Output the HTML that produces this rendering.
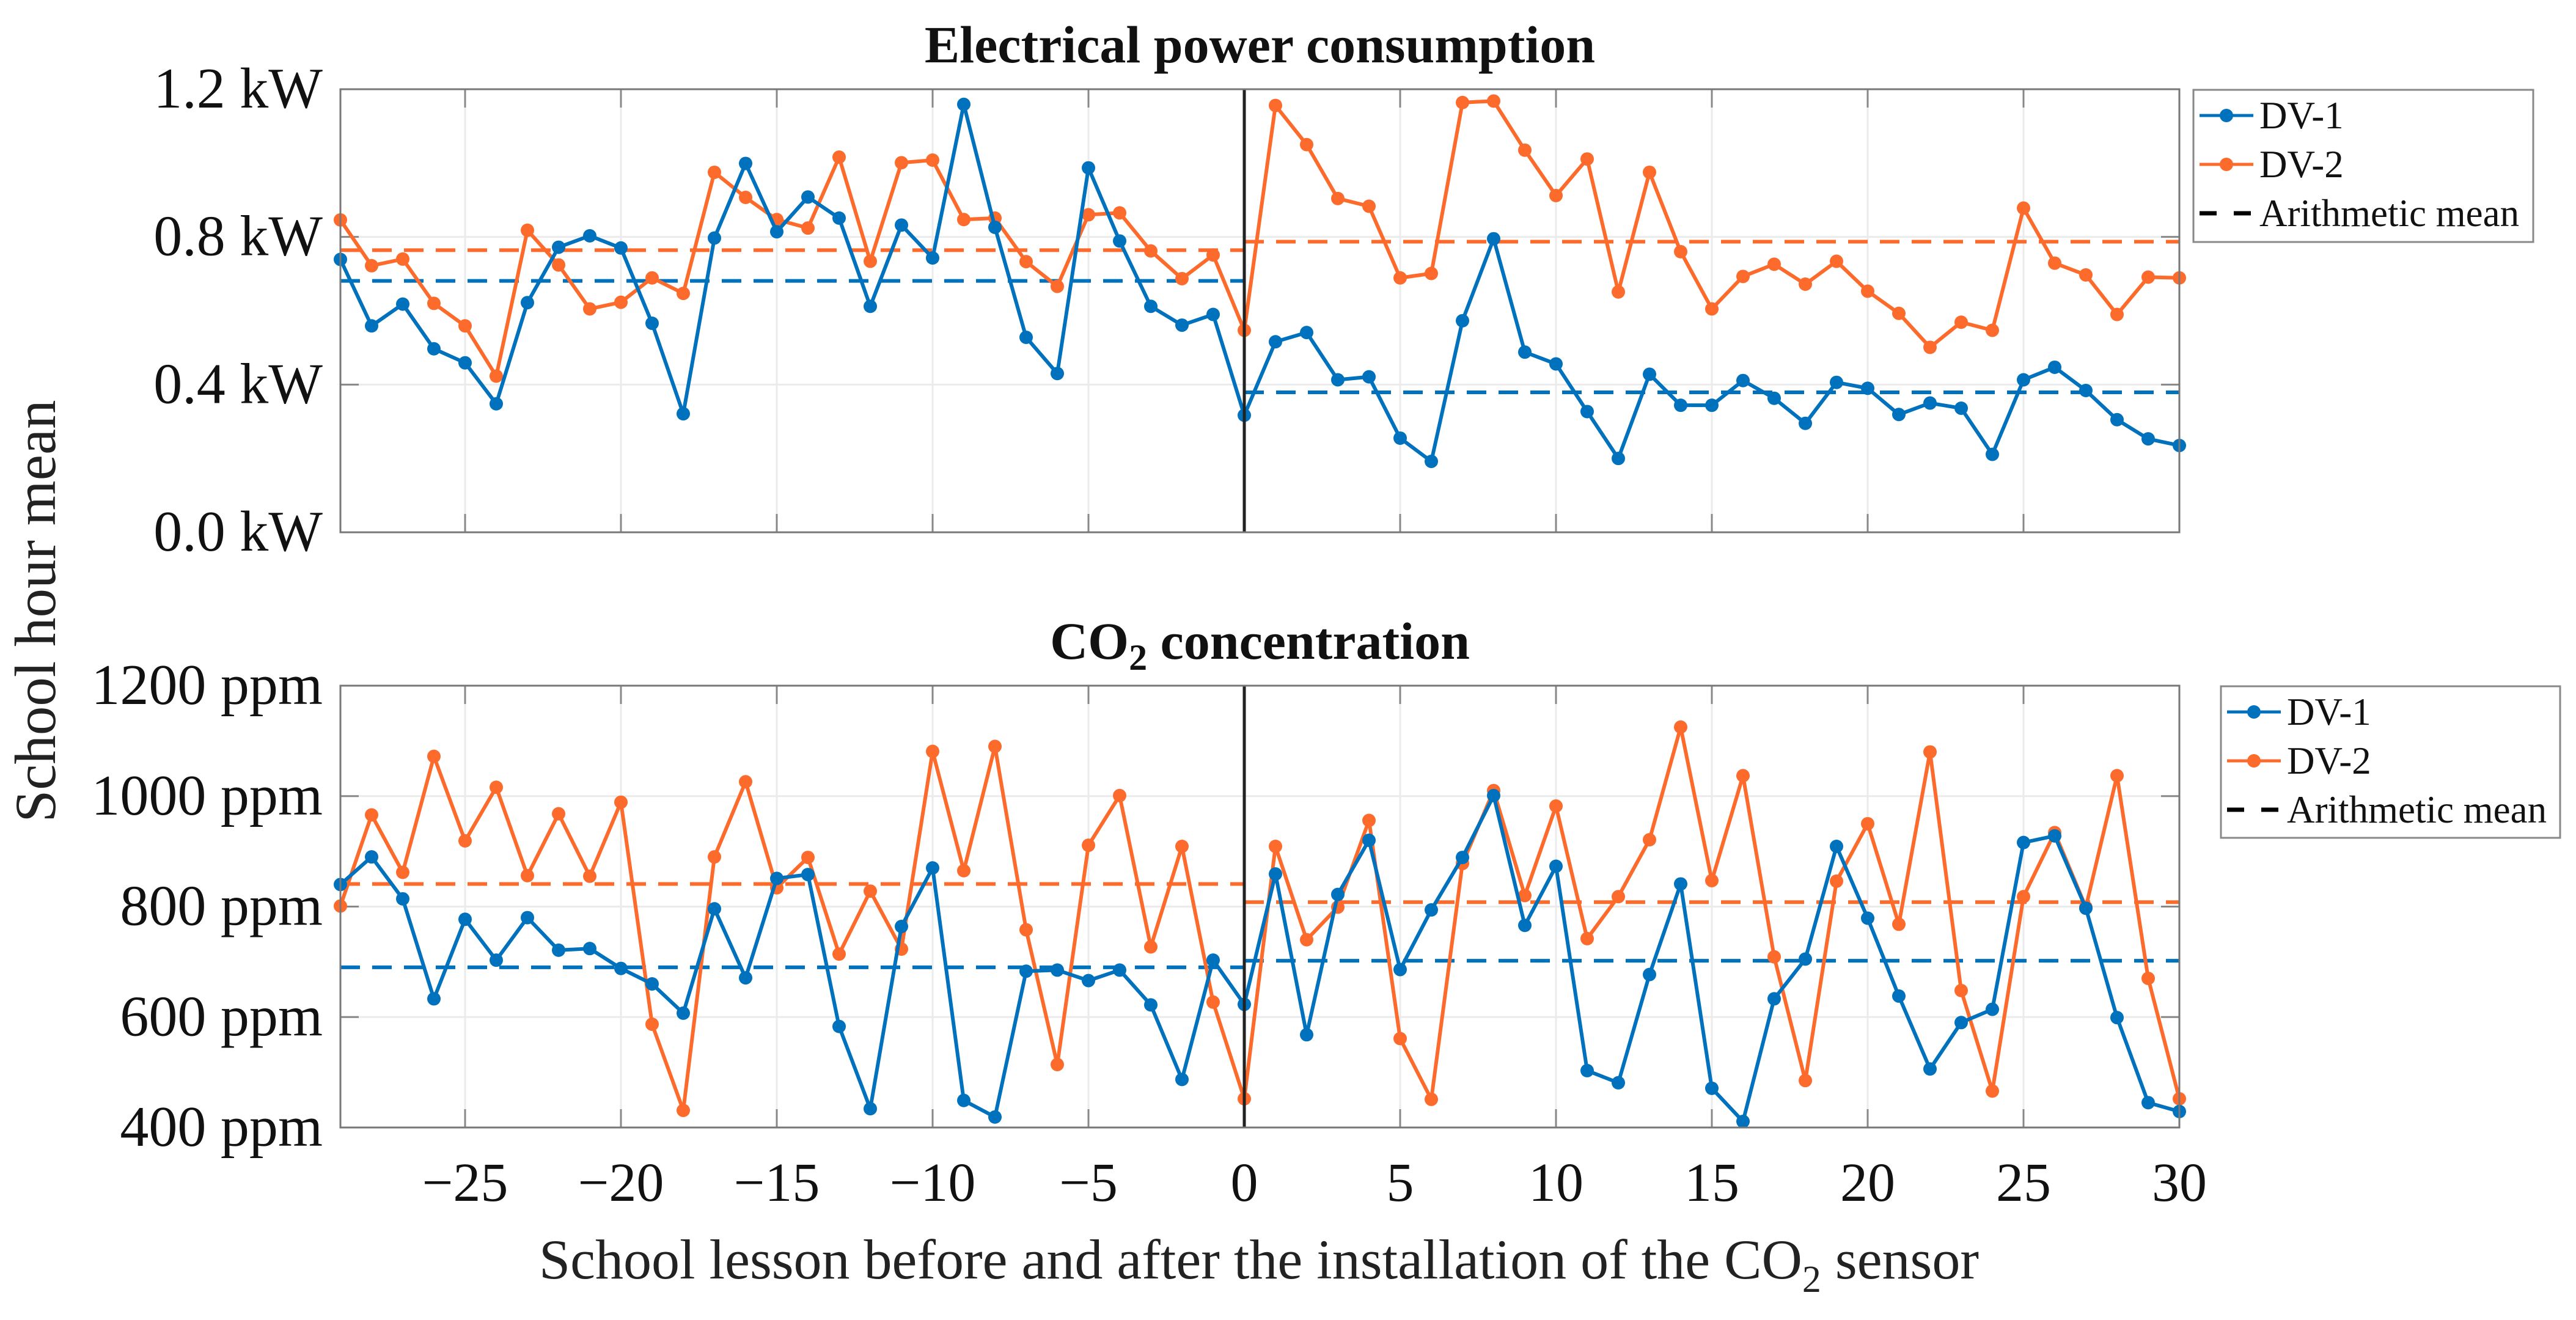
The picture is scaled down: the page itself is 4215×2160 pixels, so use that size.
<!DOCTYPE html>
<html><head><meta charset="utf-8"><style>
html,body{margin:0;padding:0;background:#fff;}
svg{display:block;font-family:"Liberation Serif",serif;}
</style></head><body>
<svg id="chart" width="4215" height="2160" viewBox="0 0 4215 2160" xmlns="http://www.w3.org/2000/svg">
<rect x="0" y="0" width="4215" height="2160" fill="#fff"/>
<g id="g"></g>
</svg>
<script>
const lessons = [-29,-28,-27,-26,-25,-24,-23,-22,-21,-20,-19,-18,-17,-16,-15,-14,-13,-12,-11,-10,-9,-8,-7,-6,-5,-4,-3,-2,-1,0,1,2,3,4,5,6,7,8,9,10,11,12,13,14,15,16,17,18,19,20,21,22,23,24,25,26,27,28,29,30];
const powerDV1 = [0.739,0.559,0.618,0.497,0.459,0.348,0.622,0.772,0.803,0.770,0.566,0.321,0.797,0.999,0.814,0.908,0.851,0.612,0.832,0.743,1.159,0.826,0.528,0.430,0.987,0.789,0.612,0.561,0.590,0.317,
0.516,0.541,0.413,0.421,0.255,0.192,0.573,0.795,0.488,0.456,0.327,0.200,0.428,0.344,0.344,0.411,0.363,0.295,0.406,0.390,0.319,0.350,0.336,0.211,0.413,0.447,0.384,0.305,0.253,0.235];
const powerDV2 = [0.846,0.722,0.740,0.620,0.559,0.423,0.818,0.724,0.605,0.623,0.689,0.647,0.975,0.907,0.847,0.824,1.016,0.734,1.001,1.008,0.847,0.851,0.733,0.666,0.860,0.865,0.762,0.687,0.751,0.547,
1.156,1.050,0.904,0.883,0.689,0.701,1.164,1.168,1.035,0.912,1.011,0.651,0.975,0.760,0.605,0.693,0.726,0.672,0.734,0.653,0.593,0.501,0.569,0.547,0.878,0.729,0.697,0.590,0.691,0.689];
const co2DV1 = [840,890,814,633,777,703,780,721,724,688,660,607,796,671,851,858,583,434,764,870,449,419,683,685,666,685,622,487,703,623,
859,568,822,920,686,794,889,1001,766,873,503,481,677,841,471,411,633,705,909,779,638,506,590,614,916,928,797,599,445,429];
const co2DV2 = [801,966,862,1072,919,1016,856,968,855,989,587,431,890,1026,834,889,714,828,723,1081,865,1090,758,514,911,1001,727,909,627,452,
909,740,799,956,561,451,878,1010,820,982,742,818,921,1125,847,1037,709,485,846,950,768,1080,648,466,818,934,799,1037,670,452];
const powerMeansBefore = [0.681,0.764];
const powerMeansAfter = [0.379,0.787];
const co2MeansBefore = [690,841];
const co2MeansAfter = [702,808];
const xTicks = [-25,-20,-15,-10,-5,0,5,10,15,20,25,30];
const powerTicks = [0,0.4,0.8,1.2];
const powerTickLabels = ["0.0 kW","0.4 kW","0.8 kW","1.2 kW"];
const co2Ticks = [400,600,800,1000,1200];
const co2TickLabels = ["400 ppm","600 ppm","800 ppm","1000 ppm","1200 ppm"];

const NS="http://www.w3.org/2000/svg";
const root=document.getElementById('g');
const BLUE="#0072BD", ORANGE="#FD6B2C";
const X0=557, X1=3566, XMIN=-29, XMAX=30;
const sx=v=>X0+(v-XMIN)/(XMAX-XMIN)*(X1-X0);
function mk(tag,attrs,parent){const e=document.createElementNS(NS,tag);for(const k in attrs)e.setAttribute(k,attrs[k]);(parent||root).appendChild(e);return e;}

function panel(name,top,bot,ymin,ymax,ticks,labels,s1,s2,mb,ma,titleParts,legY){
  const sy=v=>bot-(v-ymin)/(ymax-ymin)*(bot-top);
  const g=mk('g',{});
  
  
  xTicks.forEach(t=>{const l=mk('line',{x1:sx(t),x2:sx(t),y1:top,y2:bot,stroke:'#ebebeb','stroke-width':3},g);
    
    mk('line',{x1:sx(t),x2:sx(t),y1:bot,y2:bot-30,stroke:'#888','stroke-width':3},g);
    mk('line',{x1:sx(t),x2:sx(t),y1:top,y2:top+30,stroke:'#888','stroke-width':3},g);});
  ticks.forEach((t,i)=>{const l=mk('line',{x1:X0,x2:X1,y1:sy(t),y2:sy(t),stroke:'#ebebeb','stroke-width':3},g);
    
    mk('line',{x1:X0,x2:X0+30,y1:sy(t),y2:sy(t),stroke:'#888','stroke-width':3},g);
    mk('line',{x1:X1,x2:X1-30,y1:sy(t),y2:sy(t),stroke:'#888','stroke-width':3},g);
    const tx=mk('text',{x:528,y:sy(t)+30,'text-anchor':'end','font-size':94,fill:'#111'},g);
    tx.textContent=labels[i];
    });
  const segs=[[XMIN,0,mb],[0,XMAX,ma]];
  segs.forEach(([a,b,m])=>{[BLUE,ORANGE].forEach((c,i)=>{
    const l=mk('line',{x1:sx(a),x2:sx(b),y1:sy(m[i]),y2:sy(m[i]),stroke:c,'stroke-width':6,'stroke-dasharray':'32 20'},g);
    });});
  [[s2,ORANGE,'dv-2'],[s1,BLUE,'dv-1']].forEach(([s,c,n])=>{
    const pts=lessons.map((x,i)=>sx(x)+','+sy(s[i])).join(' ');
    const pl=mk('polyline',{points:pts,fill:'none',stroke:c,'stroke-width':6,'stroke-linejoin':'round'},g);
    
    lessons.forEach((x,i)=>{const ci=mk('circle',{cx:sx(x),cy:sy(s[i]),r:11,fill:c},g);
      });
  });
  const z=mk('line',{x1:sx(0),x2:sx(0),y1:top,y2:bot,stroke:'#222','stroke-width':5},g);
  
  const b=mk('rect',{x:X0,y:top,width:X1-X0,height:bot-top,fill:'none',stroke:'#777','stroke-width':3},g);
  
  const t=mk('text',{x:(X0+X1)/2,y:top-44,'text-anchor':'middle','font-size':86,'font-weight':'bold',fill:'#111'},g);
  
  t.innerHTML=titleParts;
  const [lx,ly,lw,lh]=legY;
  const lg=mk('g',{},g);
  
  mk('rect',{x:lx,y:ly,width:lw,height:lh,fill:'#fff',stroke:'#888','stroke-width':3},lg);
  const rows=[['DV-1',BLUE,0],['DV-2',ORANGE,0],['Arithmetic mean','#000',1]];
  rows.forEach(([lab,c,d],i)=>{const yy=ly+42+i*80;
    if(d){mk('line',{x1:lx+10,x2:lx+98,y1:yy,y2:yy,stroke:c,'stroke-width':7,'stroke-dasharray':'28 28'},lg);}
    else{mk('line',{x1:lx+10,x2:lx+98,y1:yy,y2:yy,stroke:c,'stroke-width':5},lg);mk('circle',{cx:lx+54,cy:yy,r:11,fill:c},lg);}
    const tx=mk('text',{x:lx+108,y:yy+21,'font-size':63,fill:'#111'},lg);tx.textContent=lab;
    });
}
panel('power',146,871,0,1.2,powerTicks,powerTickLabels,powerDV1,powerDV2,powerMeansBefore,powerMeansAfter,'Electrical power consumption',[3589,147,556,249]);
panel('co2',1122,1845,400,1200,co2Ticks,co2TickLabels,co2DV1,co2DV2,co2MeansBefore,co2MeansAfter,'CO<tspan font-size="60" dy="18">2</tspan><tspan dy="-18"> concentration</tspan>',[3634,1123,555,248]);

xTicks.forEach(t=>{const tx=mk('text',{x:sx(t),y:1965,'text-anchor':'middle','font-size':90,fill:'#111'});
  tx.textContent=t<0?'\u2212'+(-t):String(t);
  });
const xl=mk('text',{x:2060,y:2092,'text-anchor':'middle','font-size':92,fill:'#222'});

xl.innerHTML='School lesson before and after the installation of the CO<tspan font-size="62" dy="22">2</tspan><tspan dy="-22"> sensor</tspan>';
const yl=mk('text',{x:0,y:0,'text-anchor':'middle','font-size':95,fill:'#222',transform:'translate(90,1000) rotate(-90)'});

yl.textContent='School hour mean';
</script>
</body></html>
